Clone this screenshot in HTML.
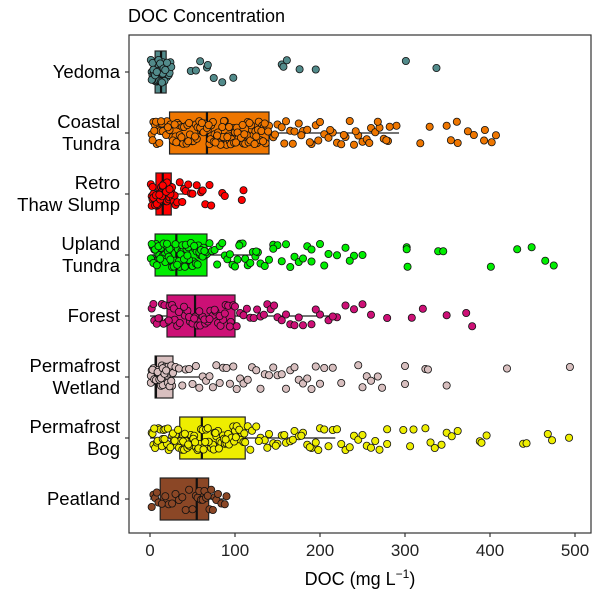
<!DOCTYPE html>
<html><head><meta charset="utf-8"><style>
body{margin:0;background:#fff;font-family:"Liberation Sans",sans-serif}
svg text{font-family:"Liberation Sans",sans-serif}
</style></head><body>
<svg id="chart" width="600" height="597" xmlns="http://www.w3.org/2000/svg">
<text x="128" y="22" font-size="18">DOC Concentration</text>
<rect x="129" y="35" width="462" height="498" fill="#fff" stroke="#333" stroke-width="1.2"/>
<g id="marks"></g>
<g id="axes"></g>
<text x="360" y="585" font-size="18" text-anchor="middle">DOC (mg L<tspan baseline-shift="super" font-size="12">−1</tspan>)</text>
</svg>
<script>
const categories=["Yedoma","Coastal Tundra","Retro Thaw Slump","Upland Tundra","Forest","Permafrost Wetland","Permafrost Bog","Peatland"];
const labels=[["Yedoma"],["Coastal","Tundra"],["Retro","Thaw Slump"],["Upland","Tundra"],["Forest"],["Permafrost","Wetland"],["Permafrost","Bog"],["Peatland"]];
const colors=["#528B8B","#EE7600","#FF0000","#00EE00","#CD1076","#D8BFBF","#EEEE00","#8B4726"];
const q1=[6,23,7,6,20,6,35,12];
const med=[13,67,15,31,53,7,61,55];
const q3=[19,140,25,67,100,27,112,69];
const wlo=[0,0,0,0,0,0,0,0];
const whi=[27,293,41,130,215,60,218,88];
const xTicks=[0,100,200,300,400,500];
const pts=[
[1,2,3,4,5,6,7,8,9,10,11,12,13,14,15,16,17,18,19,20,21,22,23,24,25,3,5,7,9,11,13,15,17,2,4,6,8,10,12,14,16,18,20,48,54,59,67,68,75,85,98,155,157,161,176,195,301,337],
[2,4,6,8,10,12,14,16,18,20,22,24,26,28,30,32,34,36,38,40,42,44,46,48,50,52,54,56,58,60,62,64,66,68,70,72,74,76,78,80,82,84,86,88,90,92,94,96,98,100,102,104,106,108,110,112,114,116,118,120,122,124,126,128,130,132,134,136,138,140,3,7,11,15,19,23,27,31,35,39,43,47,51,55,59,63,67,71,75,79,83,87,91,95,99,103,107,111,115,119,123,127,131,135,139,5,13,21,29,37,45,53,61,69,77,85,93,101,109,117,125,133,145,150,155,160,165,170,175,180,185,190,195,200,205,210,215,220,225,230,235,240,245,250,255,260,265,270,275,280,147,158,168,178,188,198,212,228,242,258,268,278,290,282,318,329,349,354,361,362,374,381,394,393,402,407],
[1,2,3,4,5,6,7,8,9,10,11,12,13,14,15,16,17,18,19,20,21,22,23,24,25,26,27,28,29,30,2,4,6,8,10,12,14,16,18,20,22,24,3,7,11,15,19,23,32,35,38,40,42,45,48,50,55,60,62,65,70,72,85,88,110,108],
[1,3,5,7,9,11,13,15,17,19,21,23,25,27,29,31,33,35,37,39,41,43,45,47,49,51,53,55,57,59,61,63,65,67,2,6,10,14,18,22,26,30,34,38,42,46,50,54,58,62,66,4,8,12,16,20,24,28,32,36,40,44,48,52,56,60,64,70,73,76,79,82,85,88,91,94,97,100,103,106,109,112,115,118,121,124,127,130,135,140,145,150,155,160,165,170,175,180,185,190,200,210,220,230,240,250,105,125,145,190,205,235,302,302,303,339,345,401,432,449,465,475],
[2,5,8,11,14,17,20,23,26,29,32,35,38,41,44,47,50,53,56,59,62,65,68,71,74,77,80,83,86,89,92,95,98,4,10,16,22,28,34,40,46,52,58,64,70,76,82,88,94,100,102,106,110,114,118,122,126,130,134,138,142,146,150,155,160,165,170,175,180,190,200,210,220,230,240,250,260,215,195,279,308,321,349,372,379],
[1,2,3,4,5,6,7,8,9,10,11,12,13,14,15,16,17,18,19,20,21,22,23,24,25,26,27,1,3,5,7,9,11,13,15,17,19,21,23,25,30,34,38,42,46,50,54,58,62,66,70,74,78,82,86,90,94,98,102,106,110,115,120,125,130,135,140,145,150,155,160,165,170,175,180,185,190,195,200,205,215,225,245,250,255,260,268,273,300,300,324,327,349,420,494],
[2,4,6,8,10,12,14,16,18,20,22,24,26,28,30,32,34,36,38,40,42,44,46,48,50,52,54,56,58,60,62,64,66,68,70,72,74,76,78,80,82,84,86,88,90,92,94,96,98,100,102,104,106,108,110,112,3,9,15,21,27,33,39,45,51,57,63,69,75,81,87,93,99,105,111,5,17,29,41,53,65,77,89,101,115,120,125,130,135,140,145,150,155,160,165,170,175,180,185,190,195,200,205,210,215,220,225,230,235,240,245,250,255,260,265,270,118,128,138,148,158,168,178,188,198,279,279,298,306,310,324,330,335,343,349,355,362,388,390,396,439,443,468,473,493],
[2,4,6,8,10,14,18,22,26,30,34,38,42,46,50,54,56,58,60,62,64,66,68,70,72,74,76,78,80,84,88,90]
];
const X=v=>150+v*0.85;
const Y=i=>72+i*61.0;
const marks=document.getElementById('marks');
const axes=document.getElementById('axes');
const NS="http://www.w3.org/2000/svg";
function mk(t,a,p){const e=document.createElementNS(NS,t);for(const k in a)e.setAttribute(k,a[k]);(p||marks).appendChild(e);return e;}
categories.forEach((c,i)=>{
  const y=Y(i),h=21;
  const wl=mk('line',{x1:X(wlo[i]),x2:X(q1[i]),y1:y,y2:y,stroke:'#222','stroke-width':1.2});
  
  
  const wh=mk('line',{x1:X(q3[i]),x2:X(whi[i]),y1:y,y2:y,stroke:'#222','stroke-width':1.2});
  
  
  const b=mk('rect',{x:X(q1[i]),y:y-h,width:X(q3[i])-X(q1[i]),height:2*h,fill:colors[i],stroke:'#222','stroke-width':1.2});
  
  
  const m=mk('line',{x1:X(med[i]),x2:X(med[i]),y1:y-h,y2:y+h,stroke:'#111','stroke-width':2.2});
  
  
  pts[i].forEach((v,k)=>{
    const hsh=(k*k*31+k*17+i*53)%97;
    const j=(hsh/96)*24-12;
    const p=mk('circle',{cx:X(v),cy:y+j,r:3.6,fill:colors[i],stroke:'#111','stroke-width':0.8});
    
    
  });
  labels[i].forEach((ln,li)=>{
    const t=mk('text',{x:120,y:y+6+(li-(labels[i].length-1)/2)*22,'font-size':18.5,'text-anchor':'end',fill:'#000'},axes);
    t.textContent=ln;
    
    
  });
  const tk=mk('line',{x1:125,x2:129,y1:y,y2:y,stroke:'#333','stroke-width':1.2},axes);
  
  
});
xTicks.forEach(v=>{
  const tk=mk('line',{x1:X(v),x2:X(v),y1:533,y2:537,stroke:'#333','stroke-width':1.2},axes);
  
  
  const t=mk('text',{x:X(v),y:556,'font-size':17,'text-anchor':'middle',fill:'#222'},axes);
  t.textContent=v;
  
  
});
</script>
</body></html>
